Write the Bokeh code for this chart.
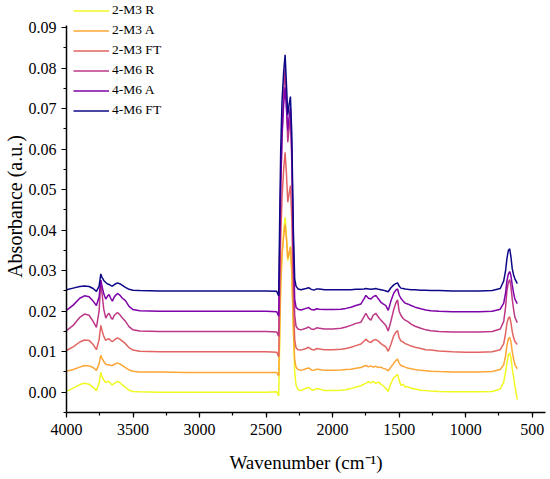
from bokeh.plotting import figure
from bokeh.models import Range1d, SingleIntervalTicker, Legend, LegendItem, PrintfTickFormatter
from bokeh.embed import file_html
from bokeh.resources import INLINE

wavenumber = [4000, 3950, 3900, 3865, 3830, 3800, 3775, 3755, 3742, 3735, 3720, 3705, 3690, 3680, 3665, 3655, 3640, 3617, 3600, 3580,
              3557, 3530, 3500, 3450, 3300, 3100, 2900, 2700, 2500, 2420, 2405, 2398, 2390, 2380, 2368, 2357, 2347, 2337, 2327, 2317,
              2307, 2295, 2285, 2275, 2260, 2237, 2200, 2180, 2160, 2140, 2120, 2100, 2060, 2000, 1937, 1900, 1862, 1825, 1787, 1765,
              1750, 1730, 1712, 1695, 1675, 1655, 1637, 1620, 1600, 1582, 1562, 1540, 1525, 1512, 1500, 1487, 1470, 1455, 1437, 1410,
              1380, 1337, 1300, 1262, 1200, 1100, 1000, 900, 800, 740, 714, 700, 690, 679, 669, 660, 650, 640, 630, 612]

m3_r = [0.0002, 0.0010, 0.0019, 0.0022, 0.0020, 0.0012, 0.0004, 0.0022, 0.0049, 0.0040, 0.0030, 0.0024, 0.0027, 0.0026, 0.0020, 0.0018, 0.0022, 0.0027, 0.0024, 0.0018,
        0.0012, 0.0005, 0.0002, 0.0001, 0.0000, 0.0000, 0.0000, 0.0000, 0.0000, 0.0001, -0.0009, 0.0120, 0.0260, 0.0340, 0.0395, 0.0432, 0.0385, 0.0325, 0.0340, 0.0360,
        0.0300, 0.0150, 0.0050, 0.0018, 0.0006, 0.0004, 0.0010, 0.0012, 0.0006, 0.0005, 0.0009, 0.0008, 0.0004, 0.0004, 0.0005, 0.0006, 0.0009, 0.0013, 0.0016, 0.0020,
        0.0022, 0.0026, 0.0023, 0.0027, 0.0022, 0.0025, 0.0020, 0.0016, 0.0010, 0.0002, 0.0022, 0.0036, 0.0040, 0.0044, 0.0030, 0.0017, 0.0020, 0.0013, 0.0014, 0.0010,
        0.0008, 0.0005, 0.0004, 0.0003, 0.0002, 0.0001, 0.0001, 0.0001, 0.0002, 0.0008, 0.0025, 0.0050, 0.0072, 0.0092, 0.0097, 0.0085, 0.0058, 0.0038, 0.0015, -0.0018]

m3_a = [0.0052, 0.0056, 0.0062, 0.0066, 0.0065, 0.0061, 0.0054, 0.0070, 0.0091, 0.0085, 0.0076, 0.0069, 0.0068, 0.0068, 0.0066, 0.0066, 0.0069, 0.0072, 0.0070, 0.0066,
        0.0061, 0.0055, 0.0052, 0.0050, 0.0050, 0.0049, 0.0049, 0.0049, 0.0049, 0.0049, 0.0040, 0.0150, 0.0270, 0.0340, 0.0385, 0.0414, 0.0380, 0.0330, 0.0345, 0.0358,
        0.0300, 0.0160, 0.0080, 0.0062, 0.0056, 0.0054, 0.0058, 0.0060, 0.0055, 0.0054, 0.0057, 0.0056, 0.0054, 0.0054, 0.0055, 0.0056, 0.0057, 0.0059, 0.0061, 0.0064,
        0.0066, 0.0063, 0.0065, 0.0062, 0.0064, 0.0061, 0.0062, 0.0059, 0.0057, 0.0053, 0.0062, 0.0072, 0.0078, 0.0082, 0.0072, 0.0066, 0.0064, 0.0062, 0.0060, 0.0058,
        0.0056, 0.0054, 0.0053, 0.0052, 0.0051, 0.0050, 0.0050, 0.0050, 0.0051, 0.0056, 0.0068, 0.0090, 0.0115, 0.0132, 0.0136, 0.0125, 0.0100, 0.0082, 0.0068, 0.0058]

m3_ft = [0.0103, 0.0112, 0.0124, 0.0129, 0.0128, 0.0118, 0.0105, 0.0130, 0.0165, 0.0155, 0.0138, 0.0128, 0.0131, 0.0132, 0.0127, 0.0125, 0.0129, 0.0134, 0.0131, 0.0126,
         0.0120, 0.0110, 0.0104, 0.0101, 0.0100, 0.0100, 0.0100, 0.0100, 0.0100, 0.0099, 0.0088, 0.0220, 0.0380, 0.0480, 0.0550, 0.0592, 0.0540, 0.0469, 0.0490, 0.0510,
         0.0430, 0.0240, 0.0130, 0.0110, 0.0105, 0.0104, 0.0108, 0.0111, 0.0106, 0.0104, 0.0108, 0.0107, 0.0105, 0.0105, 0.0106, 0.0108, 0.0111, 0.0115, 0.0119, 0.0126,
         0.0131, 0.0125, 0.0123, 0.0128, 0.0130, 0.0126, 0.0120, 0.0116, 0.0112, 0.0101, 0.0118, 0.0140, 0.0148, 0.0152, 0.0135, 0.0127, 0.0124, 0.0120, 0.0118, 0.0114,
         0.0111, 0.0108, 0.0105, 0.0104, 0.0102, 0.0100, 0.0099, 0.0099, 0.0100, 0.0105, 0.0120, 0.0145, 0.0170, 0.0183, 0.0186, 0.0172, 0.0150, 0.0135, 0.0125, 0.0118]

m6_r = [0.0152, 0.0165, 0.0185, 0.0193, 0.0190, 0.0175, 0.0160, 0.0200, 0.0276, 0.0250, 0.0205, 0.0183, 0.0192, 0.0195, 0.0184, 0.0180, 0.0190, 0.0197, 0.0192, 0.0183,
        0.0175, 0.0162, 0.0154, 0.0151, 0.0150, 0.0150, 0.0150, 0.0150, 0.0150, 0.0149, 0.0138, 0.0300, 0.0500, 0.0640, 0.0740, 0.0799, 0.0720, 0.0617, 0.0650, 0.0679,
        0.0570, 0.0320, 0.0190, 0.0163, 0.0156, 0.0154, 0.0158, 0.0161, 0.0156, 0.0155, 0.0159, 0.0158, 0.0156, 0.0156, 0.0158, 0.0161, 0.0165, 0.0170, 0.0173, 0.0186,
        0.0195, 0.0183, 0.0178, 0.0190, 0.0195, 0.0185, 0.0178, 0.0172, 0.0165, 0.0151, 0.0175, 0.0205, 0.0220, 0.0228, 0.0200, 0.0190, 0.0182, 0.0178, 0.0175, 0.0168,
        0.0163, 0.0158, 0.0154, 0.0152, 0.0150, 0.0149, 0.0149, 0.0149, 0.0150, 0.0156, 0.0175, 0.0210, 0.0250, 0.0272, 0.0278, 0.0262, 0.0230, 0.0205, 0.0185, 0.0172]

m6_a = [0.0202, 0.0215, 0.0232, 0.0238, 0.0236, 0.0225, 0.0214, 0.0235, 0.0277, 0.0265, 0.0243, 0.0230, 0.0238, 0.0241, 0.0230, 0.0225, 0.0236, 0.0244, 0.0240, 0.0232,
        0.0226, 0.0212, 0.0204, 0.0201, 0.0200, 0.0200, 0.0200, 0.0200, 0.0200, 0.0199, 0.0188, 0.0350, 0.0520, 0.0630, 0.0710, 0.0753, 0.0700, 0.0646, 0.0680, 0.0703,
        0.0600, 0.0360, 0.0230, 0.0210, 0.0205, 0.0203, 0.0207, 0.0209, 0.0204, 0.0203, 0.0206, 0.0205, 0.0204, 0.0204, 0.0205, 0.0207, 0.0210, 0.0214, 0.0218, 0.0230,
        0.0239, 0.0232, 0.0230, 0.0236, 0.0239, 0.0230, 0.0222, 0.0218, 0.0214, 0.0202, 0.0225, 0.0245, 0.0252, 0.0255, 0.0240, 0.0232, 0.0225, 0.0220, 0.0218, 0.0214,
        0.0210, 0.0206, 0.0203, 0.0201, 0.0200, 0.0199, 0.0199, 0.0199, 0.0200, 0.0205, 0.0220, 0.0245, 0.0275, 0.0292, 0.0298, 0.0288, 0.0265, 0.0245, 0.0230, 0.0219]

m6_ft = [0.0253, 0.0257, 0.0261, 0.0262, 0.0261, 0.0256, 0.0249, 0.0262, 0.0292, 0.0285, 0.0276, 0.0271, 0.0267, 0.0266, 0.0263, 0.0262, 0.0266, 0.0270, 0.0268, 0.0264,
         0.0259, 0.0254, 0.0252, 0.0251, 0.0250, 0.0250, 0.0250, 0.0250, 0.0250, 0.0249, 0.0238, 0.0420, 0.0600, 0.0720, 0.0790, 0.0833, 0.0760, 0.0685, 0.0710, 0.0730,
         0.0640, 0.0400, 0.0280, 0.0262, 0.0255, 0.0253, 0.0256, 0.0258, 0.0254, 0.0252, 0.0255, 0.0255, 0.0253, 0.0253, 0.0253, 0.0253, 0.0253, 0.0254, 0.0254, 0.0255,
         0.0256, 0.0255, 0.0254, 0.0255, 0.0256, 0.0254, 0.0253, 0.0252, 0.0250, 0.0248, 0.0258, 0.0265, 0.0268, 0.0270, 0.0262, 0.0257, 0.0256, 0.0255, 0.0254, 0.0253,
         0.0253, 0.0252, 0.0252, 0.0251, 0.0251, 0.0250, 0.0250, 0.0250, 0.0251, 0.0256, 0.0275, 0.0300, 0.0330, 0.0350, 0.0354, 0.0335, 0.0305, 0.0290, 0.0280, 0.0268]

series_names = ["2-M3 R", "2-M3 A", "2-M3 FT", "4-M6 R", "4-M6 A", "4-M6 FT"]
series_values = [m3_r, m3_a, m3_ft, m6_r, m6_a, m6_ft]
series_colors = ["#f0f921", "#fca636", "#e16462", "#bd3786", "#7e03a8", "#0d0887"]

FONT = "Liberation Serif"
Y_AXIS_TOP = 0.0905

p = figure(width=546, height=476, output_backend="svg", toolbar_location=None,
           x_range=Range1d(4000, 400), y_range=Range1d(-0.005, 0.0967),
           min_border_left=65, min_border_right=1, min_border_top=0, min_border_bottom=64)
p.outline_line_color = None
p.xgrid.visible = False
p.ygrid.visible = False
p.background_fill_color = "white"

renderers = []
for vals, col in zip(series_values, series_colors):
    r = p.line(wavenumber, vals, line_color=col, line_width=1.5)
    renderers.append(r)

for ax in (p.xaxis[0], p.yaxis[0]):
    ax.axis_line_width = 1.5
    ax.axis_line_color = "black"
    ax.major_tick_line_color = "black"
    ax.minor_tick_line_color = "black"
    ax.major_tick_line_width = 1.2
    ax.minor_tick_line_width = 1.2
    ax.major_tick_out = 5
    ax.major_tick_in = 0
    ax.minor_tick_out = 3
    ax.minor_tick_in = 0
    ax.major_label_text_font = FONT
    ax.major_label_text_font_size = "16px"
    ax.major_label_text_color = "black"
    ax.axis_label_text_font = FONT
    ax.axis_label_text_font_style = "normal"
    ax.axis_label_text_color = "black"

p.yaxis.bounds = (-0.005, Y_AXIS_TOP)
p.xaxis.ticker = SingleIntervalTicker(interval=500, num_minor_ticks=2)
p.yaxis.ticker = SingleIntervalTicker(interval=0.01, num_minor_ticks=2)
p.yaxis.formatter = PrintfTickFormatter(format="%.2f")
p.xaxis.axis_label = "Wavenumber (cm\u207b\u00b9)"
p.yaxis.axis_label = "Absorbance (a.u.)"
p.xaxis.axis_label_text_font_size = "19px"
p.yaxis.axis_label_text_font_size = "20px"
p.xaxis.major_label_standoff = 6
p.yaxis.major_label_standoff = 5
p.xaxis.axis_label_standoff = 14
p.yaxis.axis_label_standoff = 0

items = [LegendItem(label=n, renderers=[r]) for n, r in zip(series_names, renderers)]
legend = Legend(items=items, location=(7, 294), orientation="vertical",
                padding=0, margin=0, spacing=4, glyph_height=15, glyph_width=36,
                label_height=15, label_standoff=3, label_text_font=FONT,
                label_text_font_size="13.5px", label_text_color="black",
                border_line_color=None, background_fill_alpha=0)
p.add_layout(legend)

open("out.html", "w").write(file_html(p, INLINE))
